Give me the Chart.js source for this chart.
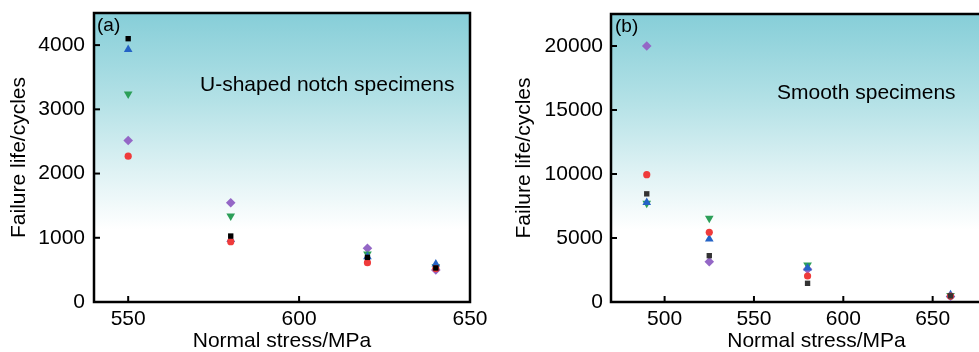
<!DOCTYPE html>
<html><head><meta charset="utf-8">
<script src="https://cdn.jsdelivr.net/npm/chart.js@4/dist/chart.umd.min.js"></script>
<style>
html,body{margin:0;padding:0;background:#fff;overflow:hidden;width:979px;height:352px;}
#ca{position:absolute;left:0;top:0;}
#cb{position:absolute;left:490px;top:0;}
</style></head><body>
<canvas id="ca" width="490" height="352"></canvas>
<canvas id="cb" width="545" height="352"></canvas>
<script>
// ---------- Panel (a): U-shaped notch specimens ----------
const stressA = [550, 580, 620, 640];
const aSquare   = [4100, 1027, 695, 530];
const aCircle   = [2270, 940, 612, 520];
const aTriUp    = [3930, 975, 705, 590];
const aTriDown  = [3240, 1338, 747, 550];
const aDiamond  = [2515, 1545, 838, 498];
const xTicksA = [550, 600, 650];
const yTicksA = [0, 1000, 2000, 3000, 4000];

// ---------- Panel (b): Smooth specimens ----------
const stressB = [490, 525, 580, 660];
const bSquare   = [8450, 3620, 1460, 480];
const bCircle   = [9950, 5450, 2030, 460];
const bTriUp    = [7780, 4930, 2650, 560];
const bTriDown  = [7720, 6550, 2900, 500];
const bDiamond  = [20000, 3150, 2560, 430];
const xTicksB = [500, 550, 600, 650, 700];
const yTicksB = [0, 5000, 10000, 15000, 20000];

const FONT = "'Liberation Sans', Arial, sans-serif";
const colors = {black:'#000000', gray:'#333333', red:'#ef3b3b', blue:'#2463c6', green:'#2c9f58', purple:'#9467c6'};

function pts(xs, ys){ return xs.map((x,i)=>({x:x, y:ys[i]})); }

function makeSets(xs, sq, ci, tu, td, di, sqColor){
  return [
    {data:pts(xs,sq), pointStyle:'rect', pointRadius:3.8, backgroundColor:sqColor, borderColor:sqColor, borderWidth:0},
    {data:pts(xs,ci), pointStyle:'circle', pointRadius:3.6, backgroundColor:colors.red, borderColor:colors.red, borderWidth:0},
    {data:pts(xs,tu), pointStyle:'triangle', pointRadius:5, backgroundColor:colors.blue, borderColor:colors.blue, borderWidth:0},
    {data:pts(xs,td), pointStyle:'triangle', pointRotation:180, pointRadius:5, backgroundColor:colors.green, borderColor:colors.green, borderWidth:0},
    {data:pts(xs,di), pointStyle:'rectRot', pointRadius:4.8, backgroundColor:colors.purple, borderColor:colors.purple, borderWidth:0}
  ];
}

function decorPlugin(label, labelDx, note, noteDx, noteY){
  return {
    id:'decor',
    beforeDraw(chart){
      const {ctx, chartArea:a} = chart;
      const g = ctx.createLinearGradient(0, a.top, 0, a.bottom);
      g.addColorStop(0, '#86ced8');
      g.addColorStop(0.3, '#b3e1e6');
      g.addColorStop(0.55, '#dff2f4');
      g.addColorStop(0.75, '#ffffff');
      g.addColorStop(1, '#ffffff');
      ctx.save();
      ctx.fillStyle = g;
      ctx.fillRect(a.left, a.top, a.right - a.left, a.bottom - a.top);
      ctx.restore();
    },
    beforeDatasetsDraw(chart){
      const {ctx, chartArea:a, scales} = chart;
      ctx.save();
      ctx.strokeStyle = '#000';
      ctx.lineWidth = 2;
      scales.x.ticks.forEach(t=>{
        const px = scales.x.getPixelForValue(t.value);
        ctx.beginPath(); ctx.moveTo(px, a.bottom); ctx.lineTo(px, a.bottom - 6); ctx.stroke();
      });
      scales.y.ticks.forEach(t=>{
        const py = scales.y.getPixelForValue(t.value);
        ctx.beginPath(); ctx.moveTo(a.left, py); ctx.lineTo(a.left + 6, py); ctx.stroke();
      });
      ctx.lineWidth = 2.5;
      ctx.strokeRect(a.left, a.top, a.right - a.left, a.bottom - a.top);
      ctx.fillStyle = '#000';
      ctx.textBaseline = 'middle';
      ctx.textAlign = 'left';
      ctx.font = "19px " + FONT;
      ctx.fillText(label, a.left + labelDx, a.top + 13);
      ctx.font = "21px " + FONT;
      ctx.fillText(note, a.left + noteDx, noteY);
      ctx.restore();
    }
  };
}

function makeChart(id, xs, sets, xmin, xmax, xticks, ymax, yticks, yWidth, pad, yTitlePad, yTickPad, plugin){
  const font = {family:FONT, size:21, lineHeight:1.2};
  return new Chart(document.getElementById(id), {
    type:'scatter',
    data:{datasets:sets},
    options:{
      responsive:false, animation:false, events:[],
      layout:{padding:pad},
      plugins:{legend:{display:false}, tooltip:{enabled:false}},
      scales:{
        x:{type:'linear', min:xmin, max:xmax,
           afterBuildTicks:s=>{s.ticks = xticks.map(v=>({value:v}));},
           afterFit:s=>{s.height = 50; s.paddingLeft = 0; s.paddingRight = 0;},
           grid:{display:false, drawTicks:false}, border:{display:false},
           ticks:{font:font, color:'#000', padding:5, maxRotation:0, callback:v=>String(v)},
           title:{display:true, text:'Normal stress/MPa', color:'#000', font:{family:FONT, size:21, lineHeight:1.0}, padding:{top:0,bottom:0}}},
        y:{type:'linear', min:0, max:ymax,
           afterBuildTicks:s=>{s.ticks = yticks.map(v=>({value:v}));},
           afterFit:s=>{s.width = yWidth; s.paddingTop = 0; s.paddingBottom = 0;},
           grid:{display:false, drawTicks:false}, border:{display:false},
           ticks:{font:font, color:'#000', padding:yTickPad, callback:v=>String(v)},
           title:{display:true, text:'Failure life/cycles', color:'#000', font:font, padding:{top:yTitlePad,bottom:0}}}
      }
    },
    plugins:[plugin]
  });
}

makeChart('ca', stressA, makeSets(stressA, aSquare, aCircle, aTriUp, aTriDown, aDiamond, colors.black),
  540, 650, xTicksA, 4500, yTicksA, 94, {top:13, right:20, left:0, bottom:0}, 7, 9,
  decorPlugin('(a)', 3, 'U-shaped notch specimens', 106, 85));

makeChart('cb', stressB, makeSets(stressB, bSquare, bCircle, bTriUp, bTriDown, bDiamond, colors.gray),
  470, 700, xTicksB, 22500, yTicksB, 121, {top:14, right:13, left:0, bottom:0}, 22, 8,
  decorPlugin('(b)', 4, 'Smooth specimens', 166, 93));
</script>
</body></html>
